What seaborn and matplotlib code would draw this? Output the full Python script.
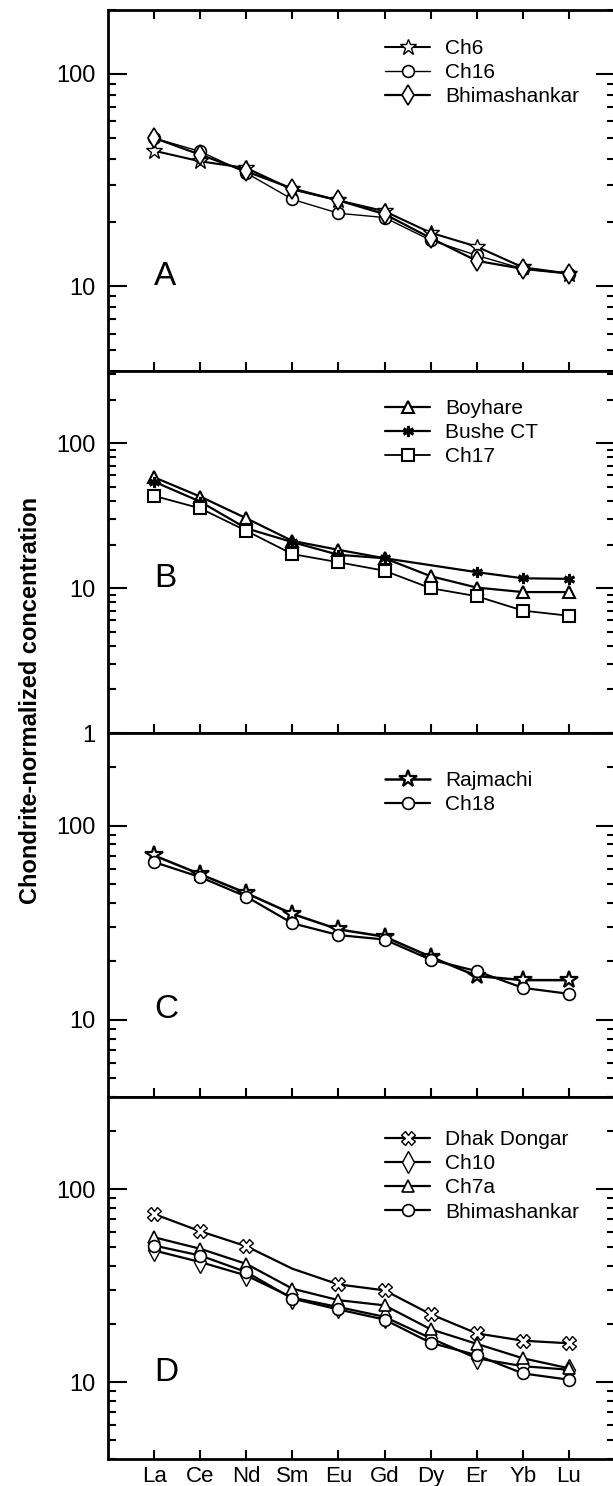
#!/usr/bin/env python3
"""Chondrite-normalized REE patterns, four stacked panels (A-D)."""

import matplotlib

matplotlib.use("Agg")
import matplotlib.pyplot as plt
import numpy as np
import pandas as pd
import seaborn as sns
from matplotlib.ticker import FuncFormatter, LogLocator, NullFormatter

ELEMENTS = ["La", "Ce", "Nd", "Sm", "Eu", "Gd", "Dy", "Er", "Yb", "Lu"]

# panel A
A_CH6 = [43.5, 38.8, 36.1, 28.6, 25.4, 22.6, 17.9, 15.4, 12.3, 11.5]
A_CH16 = [49.9, 43.2, 34.2, 25.7, 22.1, 21.1, 16.5, 14.0, 12.1, 11.5]
A_BHIMA = [50.0, 41.7, 34.8, 28.9, 25.4, 21.9, 16.9, 13.2, 12.1, 11.5]

# panel B (Bushe CT has no Dy value)
B_BOYHARE = [58.3, 42.9, 30.4, 21.2, 18.4, 16.1, 12.1, 10.1, 9.4, 9.4]
B_BUSHE = [54.4, 39.6, 25.9, 20.8, 17.0, 16.1, np.nan, 12.9, 11.7, 11.6]
B_CH17 = [43.4, 35.6, 24.9, 17.2, 15.1, 13.2, 10.0, 8.8, 7.0, 6.45]

# panel C
C_RAJMACHI = [70.2, 56.2, 44.9, 35.1, 29.2, 26.8, 21.1, 16.8, 16.0, 16.0]
C_CH18 = [64.9, 54.3, 43.1, 31.4, 27.3, 25.9, 20.4, 17.8, 14.6, 13.6]

# panel D
D_DHAK = [74.3, 60.5, 50.6, 38.7, 32.1, 29.9, 22.5, 17.9, 16.4, 15.9]
D_CH10 = [48.1, 41.9, 35.7, 27.4, 24.5, 21.8, 16.9, 13.3, 12.1, 11.6]
D_CH7A = [56.3, 49.1, 41.0, 30.5, 26.6, 25.0, 18.8, 15.8, 13.3, 11.8]
D_BHIMA = [51.0, 45.3, 37.2, 27.1, 23.8, 21.1, 16.0, 13.8, 11.1, 10.3]

PANEL_LABELS = ["A", "B", "C", "D"]
PANEL_YLIMS = [(4, 200), (1, 316), (4, 300), (4, 300)]

# (label, values, marker, markersize, linewidth, marker face, marker edge width)
PANELS = [
    [
        ("Ch6", A_CH6, "*", 12, 1.5, "white", 1.0),
        ("Ch16", A_CH16, "o", 8.5, 1.0, "white", 1.2),
        ("Bhimashankar", A_BHIMA, "d", 10, 1.6, "white", 1.2),
    ],
    [
        ("Boyhare", B_BOYHARE, "^", 9, 1.6, "white", 1.5),
        ("Bushe CT", B_BUSHE, (6, 2, 0), 8, 1.6, "black", 2.0),
        ("Ch17", B_CH17, "s", 8.5, 1.3, "white", 1.5),
    ],
    [
        ("Rajmachi", C_RAJMACHI, "*", 13, 1.8, "white", 1.6),
        ("Ch18", C_CH18, "o", 8.5, 1.6, "white", 1.2),
    ],
    [
        ("Dhak Dongar", D_DHAK, "X", 9.5, 1.6, "white", 1.0),
        ("Ch10", D_CH10, "d", 11, 1.6, "white", 1.0),
        ("Ch7a", D_CH7A, "^", 9, 1.6, "white", 1.2),
        ("Bhimashankar", D_BHIMA, "o", 8.5, 1.6, "white", 1.2),
    ],
]

sns.set_theme(style="ticks")
plt.rcParams["font.family"] = ["Liberation Sans", "DejaVu Sans"]
plt.rcParams["text.color"] = "black"
plt.rcParams["axes.labelcolor"] = "black"
plt.rcParams["xtick.color"] = "black"
plt.rcParams["ytick.color"] = "black"

FIG_W, FIG_H = 613, 1486
LEFT_PX, RIGHT_PX = 108, 615
EDGES_PX = [10, 371, 733, 1097, 1459]
LEGEND_ROW1_PX = [48, 408, 780, 1139]

fig = plt.figure(figsize=(FIG_W / 100, FIG_H / 100), dpi=100)
fig.patch.set_facecolor("white")
x_pos = np.arange(len(ELEMENTS))

for i, series in enumerate(PANELS):
    top, bot = EDGES_PX[i], EDGES_PX[i + 1]
    ax = fig.add_axes([LEFT_PX / FIG_W, 1 - bot / FIG_H,
                       (RIGHT_PX - LEFT_PX) / FIG_W, (bot - top) / FIG_H])
    ax.set_facecolor("white")

    for label, values, marker, ms, lw, face, mew in series:
        df = pd.DataFrame({"pos": x_pos, "value": values}).dropna()
        extra = {}
        if label == "Dhak Dongar":
            # no symbol drawn at Sm in the original
            extra["markevery"] = [0, 1, 2, 4, 5, 6, 7, 8, 9]
        sns.lineplot(data=df, x="pos", y="value", ax=ax, color="black",
                     estimator=None, linewidth=lw, marker=marker, markersize=ms,
                     markerfacecolor=face, markeredgecolor="black",
                     markeredgewidth=mew, label=label, **extra)

    ax.set_yscale("log")
    ax.set_ylim(*PANEL_YLIMS[i])
    ax.set_xlim(-1, 10)
    ax.yaxis.set_major_locator(LogLocator(base=10))
    ax.yaxis.set_minor_locator(LogLocator(base=10, subs=np.arange(2, 10)))
    ax.yaxis.set_major_formatter(FuncFormatter(lambda v, _: f"{v:g}"))
    ax.yaxis.set_minor_formatter(NullFormatter())
    ax.set_xticks(x_pos)
    ax.set_xticklabels(ELEMENTS)
    ax.set_xlabel("")
    ax.set_ylabel("")

    ax.tick_params(axis="x", which="major", direction="in", length=6.5, width=1.5,
                   top=(i == 0), bottom=True, labelbottom=(i == 3),
                   labelsize=16, pad=5)
    ax.tick_params(axis="x", which="minor", bottom=False, top=False)
    ax.tick_params(axis="y", which="major", direction="in", length=14, width=1.5,
                   left=True, right=True, labelsize=17, pad=9)
    ax.tick_params(axis="y", which="minor", direction="in", length=6, width=1.5,
                   left=True, right=True)
    for spine in ax.spines.values():
        spine.set_visible(True)
        spine.set_linewidth(2.0)
        spine.set_color("black")

    ax.text(0, 10.2, PANEL_LABELS[i], fontsize=24, ha="left", va="baseline")

    row1 = LEGEND_ROW1_PX[i]
    ax.legend(loc="upper left", bbox_to_anchor=(385 / FIG_W, 1 - (row1 - 9) / FIG_H),
              bbox_transform=fig.transFigure, frameon=False, fontsize=15,
              borderpad=0, borderaxespad=0, handlelength=2.16, handletextpad=0.72,
              labelspacing=0.25)

fig.text(31 / FIG_W, 1 - 700 / FIG_H, "Chondrite-normalized concentration",
         rotation=90, ha="center", va="center", fontsize=17, fontweight="bold")

fig.savefig("out.png", dpi=100)
